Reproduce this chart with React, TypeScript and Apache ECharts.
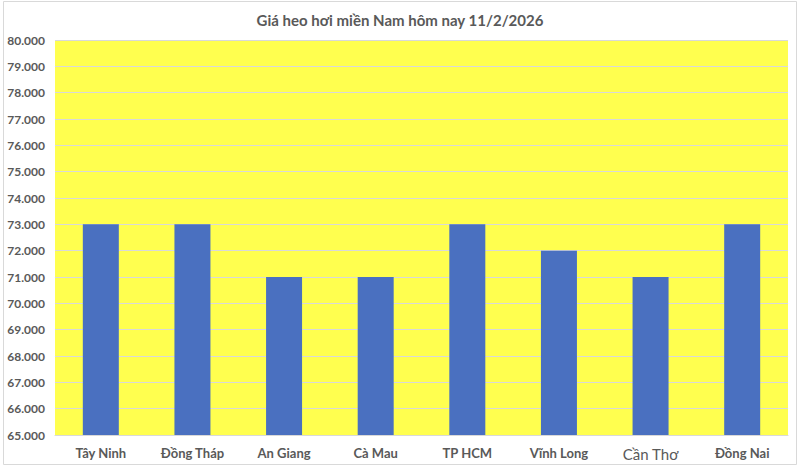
import { useEffect, useRef } from "react";
import * as echarts from "echarts";

const categories = [
  "Tây Ninh",
  "Đồng Tháp",
  "An Giang",
  "Cà Mau",
  "TP HCM",
  "Vĩnh Long",
  "Cần Thơ",
  "Đồng Nai",
];
const prices = [73000, 73000, 71000, 71000, 73000, 72000, 71000, 73000];

const TEXT = "#595959";
const FONT = "Lato, 'Open Sans', sans-serif";

export default function App() {
  const chartRef = useRef<HTMLDivElement>(null);

  useEffect(() => {
    document.body.style.margin = "0";
    if (!chartRef.current) return;
    const chart = echarts.init(chartRef.current, undefined, { renderer: "svg" });
    chart.setOption({
      animation: false,
      backgroundColor: "#ffffff",
      textStyle: { fontFamily: FONT },
      title: {
        text: "Giá heo hơi miền Nam hôm nay 11/2/2026",
        left: "center",
        top: 7,
        textStyle: { color: TEXT, fontSize: 15, fontWeight: "bold", fontFamily: FONT },
      },
      graphic: [
        {
          type: "rect",
          shape: { x: 3.5, y: 1.5, width: 793, height: 463 },
          style: { fill: "none", stroke: "#d9d9d9", lineWidth: 1 },
          silent: true,
        },
      ],
      grid: {
        left: 55,
        right: 12,
        top: 40,
        bottom: 34,
        show: true,
        backgroundColor: "#FFFF4F",
        borderWidth: 0,
      },
      xAxis: {
        type: "category",
        data: categories,
        axisLine: { show: true, lineStyle: { color: "#d9d9d9" } },
        axisTick: { show: false },
        axisLabel: {
          interval: 0,
          margin: 11,
          color: TEXT,
          fontSize: 13,
          fontWeight: "bold",
          fontFamily: FONT,
          formatter: (v: string) => (v === "Cần Thơ" ? `{plain|${v}}` : v),
          rich: {
            plain: { fontSize: 15, fontWeight: "normal", color: TEXT, fontFamily: FONT },
          },
        },
      },
      yAxis: {
        type: "value",
        min: 65000,
        max: 80000,
        interval: 1000,
        axisLine: { show: false },
        axisTick: { show: false },
        splitLine: { lineStyle: { color: "#d9d9d9", width: 1 } },
        axisLabel: {
          margin: 10,
          color: TEXT,
          fontSize: 12,
          fontWeight: "bold",
          fontFamily: FONT,
          formatter: (v: number) => (v / 1000).toFixed(3),
        },
      },
      series: [
        {
          type: "bar",
          data: prices,
          barWidth: 36,
          itemStyle: { color: "#4A70C0" },
        },
      ],
    });
    return () => chart.dispose();
  }, []);

  return (
    <div
      ref={chartRef}
      style={{ position: "fixed", left: 0, top: 0, width: 800, height: 469 }}
    />
  );
}
